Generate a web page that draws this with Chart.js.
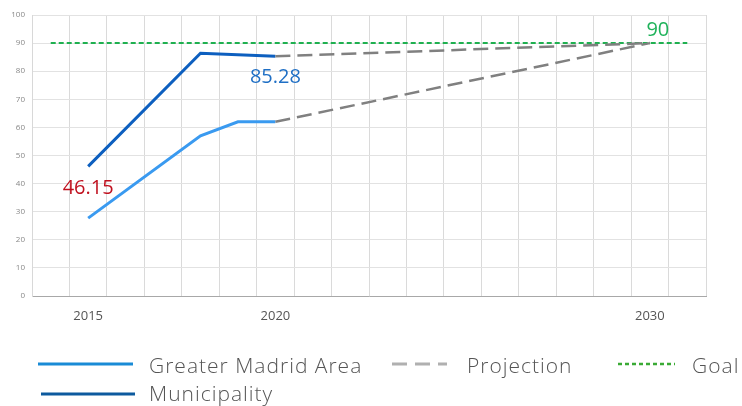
<!DOCTYPE html>
<html>
<head>
<meta charset="utf-8">
<script src="https://cdn.jsdelivr.net/npm/chart.js@4.4.1/dist/chart.umd.min.js"></script>
<style>
  html, body { margin: 0; padding: 0; background: #fff; }
  #wrap { position: relative; width: 742px; height: 406px; overflow: hidden; }
  #chartBox { position: absolute; left: 0; top: 0; width: 742px; height: 340px; }
  .lg { position: absolute; font-family: "Open Sans", sans-serif; font-weight: 300;
        font-size: 21px; letter-spacing: 1px; color: #555; white-space: nowrap; line-height: 1; }
</style>
</head>
<body>
<div id="wrap">
  <div id="chartBox"><canvas id="c"></canvas></div>

  <svg style="position:absolute;left:0;top:0" width="742" height="406">
    <line x1="38" y1="364" x2="133" y2="364" stroke="#1a8bd6" stroke-width="3"/>
    <line x1="392" y1="364" x2="447" y2="364" stroke="#b0b0b0" stroke-width="3" stroke-dasharray="15 8"/>
    <line x1="618" y1="364" x2="675" y2="364" stroke="#3aaa35" stroke-width="2.5" stroke-dasharray="4 3"/>
    <line x1="41" y1="394" x2="135" y2="394" stroke="#0d5a9e" stroke-width="3"/>
  </svg>
  <div class="lg" style="left:149px;top:355px">Greater Madrid Area</div>
  <div class="lg" style="left:467px;top:355px">Projection</div>
  <div class="lg" style="left:692px;top:355px">Goal</div>
  <div class="lg" style="left:149px;top:383px">Municipality</div>
</div>

<script>
// Years on the horizontal axis (one slot per year)
const years = ['2014','2015','2016','2017','2018','2019','2020','2021','2022',
               '2023','2024','2025','2026','2027','2028','2029','2030','2031'];
const labelledYears = ['2015', '2020', '2030'];

// Observed shares (%)
const greaterMadrid = [null, 27.7, null, null, 57, 62, 62, null, null,
                       null, null, null, null, null, null, null, null, null];
const municipality  = [null, 46.15, null, null, 86.4, null, 85.28, null, null,
                       null, null, null, null, null, null, null, null, null];

// Projections from 2020 to the 2030 goal
const projGreater   = [null, null, null, null, null, null, 62, null, null,
                       null, null, null, null, null, null, null, 90, null];
const projMunicip   = [null, null, null, null, null, null, 85.28, null, null,
                       null, null, null, null, null, null, null, 90, null];

// Target level
const goal = [90, 90, 90, 90, 90, 90, 90, 90, 90, 90, 90, 90, 90, 90, 90, 90, 90, 90];

// Value callouts: [dataset array, year, colour, dx, dy]
const callouts = [
  [municipality, '2015', '#c0111f', 0, 22],
  [municipality, '2020', '#1f6fc5', 0, 21],
  [goal,         '2030', '#1fb25a', 8, -13]
];

const calloutPlugin = {
  id: 'callouts',
  afterDatasetsDraw(chart) {
    const ctx = chart.ctx;
    const xs = chart.scales.x, ys = chart.scales.y;
    ctx.save();
    ctx.font = '20px "Open Sans", sans-serif';
    ctx.textAlign = 'center';
    ctx.textBaseline = 'middle';
    callouts.forEach(([arr, yr, color, dx, dy]) => {
      const i = years.indexOf(yr);
      const v = arr[i];
      ctx.fillStyle = color;
      ctx.fillText(String(v), xs.getPixelForValue(i) + dx, ys.getPixelForValue(v) + dy);
    });
    ctx.restore();
  }
};

const common = { pointRadius: 0, pointHoverRadius: 0, fill: false, tension: 0, spanGaps: true };

new Chart(document.getElementById('c'), {
  type: 'line',
  data: {
    labels: years,
    datasets: [
      Object.assign({ label: 'Projection', data: projGreater, borderColor: '#808080',
                      borderWidth: 2.5, borderDash: [15, 7] }, common),
      Object.assign({ label: 'Projection', data: projMunicip, borderColor: '#808080',
                      borderWidth: 2.5, borderDash: [15, 7] }, common),
      Object.assign({ label: 'Goal', data: goal, borderColor: '#1fb050',
                      borderWidth: 2, borderDash: [5, 3] }, common),
      Object.assign({ label: 'Greater Madrid Area', data: greaterMadrid, borderColor: '#3a9af0',
                      borderWidth: 3 }, common),
      Object.assign({ label: 'Municipality', data: municipality, borderColor: '#0d5fbf',
                      borderWidth: 3 }, common)
    ]
  },
  options: {
    responsive: true,
    maintainAspectRatio: false,
    animation: false,
    layout: { padding: { top: 15, right: 36, bottom: 0, left: 0 } },
    plugins: { legend: { display: false }, tooltip: { enabled: false } },
    scales: {
      x: {
        offset: true,
        grid: { offset: true, color: '#dadada', lineWidth: 1, drawTicks: false },
        border: { color: '#a8a8a8', width: 1 },
        ticks: {
          autoSkip: false, maxRotation: 0, padding: 12,
          color: '#555', font: { family: '"Open Sans", sans-serif', size: 13 },
          callback(v) { const y = years[v]; return labelledYears.includes(y) ? y : ''; }
        },
        afterFit(s) { s.height = 44; }
      },
      y: {
        min: 0, max: 100,
        grid: { color: '#e2e2e2', lineWidth: 1, drawTicks: false },
        border: { color: '#d8d8d8' },
        ticks: { stepSize: 10, padding: 7, color: '#888',
                 font: { family: '"Open Sans", sans-serif', size: 8 } },
        afterFit(s) { s.width = 32; }
      }
    }
  },
  plugins: [calloutPlugin]
});
</script>
</body>
</html>
